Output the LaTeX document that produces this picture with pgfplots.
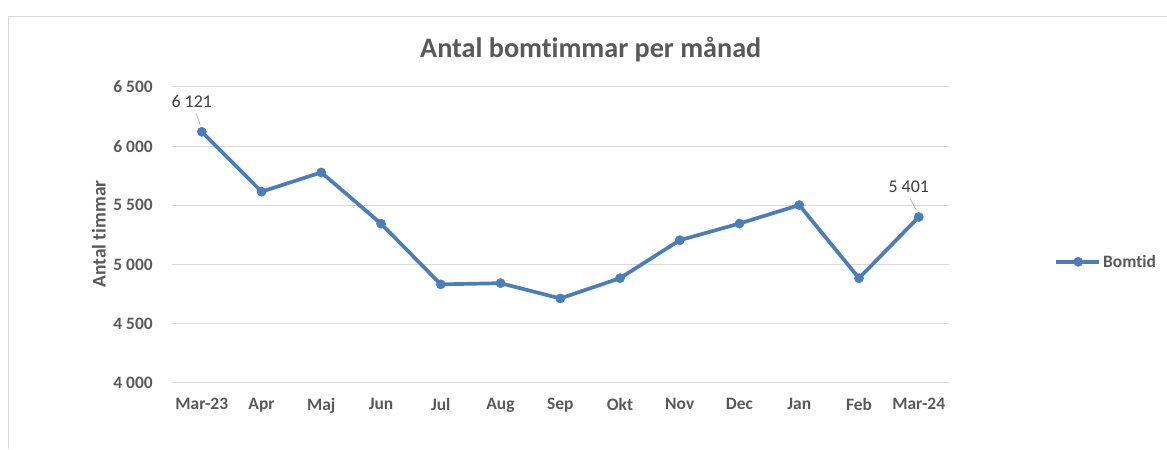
\documentclass[border=0pt]{standalone}
\usepackage{pgfplots}
\pgfplotsset{compat=1.18}
\usepackage{fontspec}
\setmainfont{Carlito}[Ligatures=NoCommon]
\definecolor{lineblue}{HTML}{4A7EBB}
\definecolor{txtgray}{HTML}{595959}
\definecolor{lbl}{HTML}{404040}
\definecolor{grid}{HTML}{D9D9D9}
\begin{document}
\begin{tikzpicture}[x=1bp,y=1bp]
\path (0,0) rectangle (1167,449);
\draw[grid, line width=1bp] (9,0) -- (9,432) -- (1167,432);
\node[txtgray, font=\fontsize{28.3}{31}\selectfont\bfseries] at (591,399) {Antal bomtimmar per månad};
\node[txtgray, font=\fontsize{19.5}{22}\selectfont\bfseries, rotate=90] at (99,215) {Antal timmar};
\begin{axis}[
  at={(172bp,66bp)}, anchor=south west,
  scale only axis, width=777bp, height=296bp,
  xmin=-0.5, xmax=12.5, ymin=4000, ymax=6500,
  xtick={0,...,12},
  xticklabels={Mar-23,Apr,Maj,Jun,Jul,Aug,Sep,Okt,Nov,Dec,Jan,Feb,Mar-24},
  ytick={4000,4500,5000,5500,6000,6500},
  yticklabels={4 000,4 500,5 000,5 500,6 000,6 500},
  xmajorgrids=false, ymajorgrids=true,
  y grid style={grid, line width=1bp},
  axis line style={draw=none},
  major tick length=0pt,
  tick style={draw=none},
  tick label style={txtgray, font=\fontsize{17.5}{20}\selectfont\bfseries, inner sep=0pt},
  yticklabel style={anchor=east, xshift=-19bp},
  xticklabel style={anchor=north, yshift=-15bp},
  clip=false,
  legend style={at={(1.136,0.409)}, anchor=west, draw=none, fill=none, inner sep=0pt,
    font=\fontsize{17.5}{20}\selectfont\bfseries, text=txtgray, legend cell align=left},
  legend image code/.code={
    \draw[#1, mark=none] (0bp,0bp) -- (43bp,0bp);
    \path[#1] plot coordinates {(22bp,0bp)};
  },
]
\addplot[lineblue, line width=3.7bp, mark=*, mark size=4.6bp, mark options={solid, fill=lineblue, draw=lineblue, line width=0.5bp}]
  coordinates {
  (0,6121) (1,5615) (2,5778) (3,5345) (4,4832) (5,4842) (6,4713)
  (7,4884) (8,5205) (9,5346) (10,5502) (11,4884) (12,5401)
  };
\addlegendentry{Bomtid}
\addplot[draw=none, mark=none, forget plot, point meta=explicit symbolic,
  nodes near coords, nodes near coords style={anchor=center, lbl, font=\fontsize{18}{20}\selectfont, inner sep=0pt, xshift=-10bp, yshift=30bp}]
  table[meta=label] {
  x y label
  0 6121 {6 121}
  12 5401 {5 401}
  };
\draw[gray!70, line width=0.6bp] (axis cs:0,6121) ++(-1.5bp,7bp) -- ++(-4bp,11bp);
\draw[gray!70, line width=0.6bp] (axis cs:12,5401) ++(-2.5bp,7bp) -- ++(-6bp,11bp);
\end{axis}
\end{tikzpicture}
\end{document}
